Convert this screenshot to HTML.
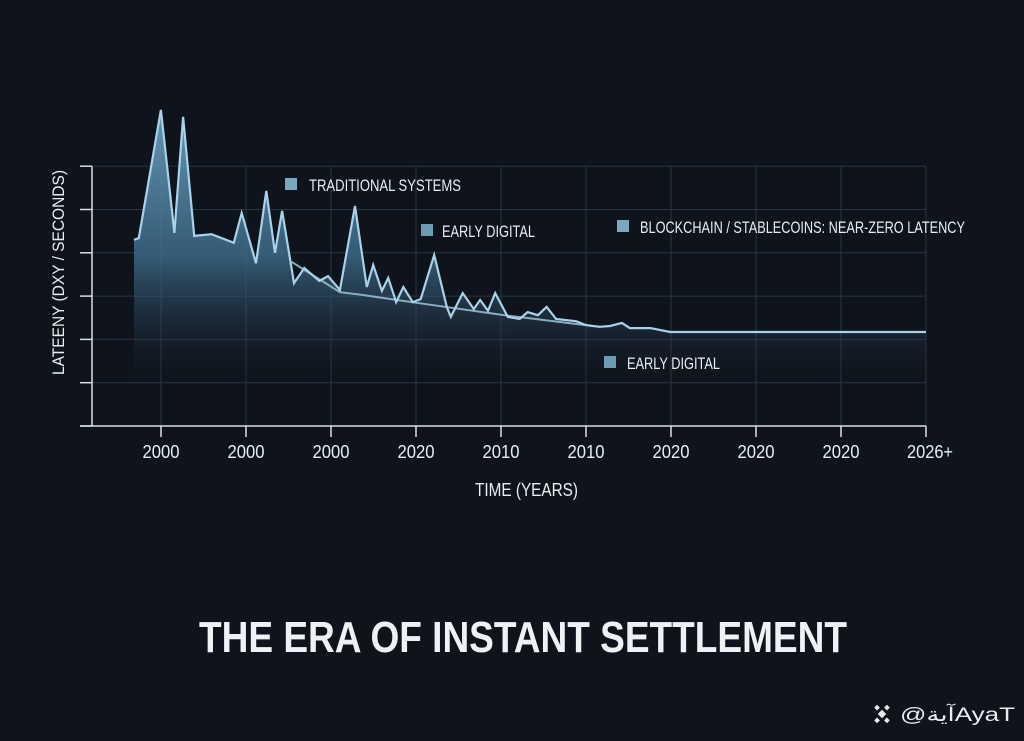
<!DOCTYPE html>
<html><head><meta charset="utf-8"><style>
html,body{margin:0;padding:0;background:#0f141c;}
#wrap{position:relative;width:1024px;height:741px;background:#0f141c;overflow:hidden;font-family:"Liberation Sans",sans-serif;}
svg text{font-family:"Liberation Sans",sans-serif;}
</style></head><body>
<div id="wrap">
<svg id="chart" width="1024" height="741">
<defs>
<linearGradient id="fillg" gradientUnits="userSpaceOnUse" x1="0" y1="110" x2="0" y2="380">
<stop offset="0" stop-color="#6a9fc0" stop-opacity="0.95"/>
<stop offset="0.55" stop-color="#3e6c8a" stop-opacity="0.8"/>
<stop offset="1" stop-color="#1a2a3a" stop-opacity="0"/>
</linearGradient>
</defs>
<g id="grid"></g>
<g id="area"></g>
<g id="axes"></g>
<g font-size="17" fill="#e6eef4">
<rect x="285" y="178" width="12" height="12" fill="#7aa8c2"/>
<text x="309" y="191" textLength="152" lengthAdjust="spacingAndGlyphs">TRADITIONAL SYSTEMS</text>
<rect x="421" y="224" width="12" height="12" fill="#6d9ab5"/>
<text x="442" y="237" textLength="93" lengthAdjust="spacingAndGlyphs">EARLY DIGITAL</text>
<rect x="617" y="220" width="12" height="12" fill="#7aa8c2"/>
<text x="640" y="233" textLength="325" lengthAdjust="spacingAndGlyphs">BLOCKCHAIN / STABLECOINS: NEAR-ZERO LATENCY</text>
<rect x="604" y="356" width="12" height="12" fill="#6d9ab5"/>
<text x="627" y="369" textLength="93" lengthAdjust="spacingAndGlyphs">EARLY DIGITAL</text>
</g>
<text x="475" y="496" textLength="103" lengthAdjust="spacingAndGlyphs" font-size="18" fill="#e6eef4">TIME (YEARS)</text>
<text transform="translate(64,375) rotate(-90)" textLength="205" lengthAdjust="spacingAndGlyphs" font-size="17" fill="#e6eef4">LATEENY (DXY / SECONDS)</text>
<text x="199" y="652" textLength="648" lengthAdjust="spacingAndGlyphs" font-size="44" font-weight="bold" fill="#eef2f5">THE ERA OF INSTANT SETTLEMENT</text>
<g fill="#e8ecef">
<g transform="translate(882,714) rotate(45)"><rect x="-3" y="-3" width="6" height="6"/><rect x="-10" y="-3" width="4" height="4"/><rect x="6" y="-1" width="4" height="4"/><rect x="-3" y="-10" width="4" height="4"/><rect x="-1" y="6" width="4" height="4"/></g>
<text x="900" y="721" textLength="115" lengthAdjust="spacingAndGlyphs" font-size="19">@آيةAyaT</text>
</g>
</svg>
</div>
<script>
var xTickLabels=["2000","2000","2000","2020","2010","2010","2020","2020","2020","2026+"];
var yTicks=[0,1,2,3,4,5,6];
var seriesT=[0,0.6,3.4,5.1,6.2,7.6,9.8,12.6,13.6,15.4,16.7,17.8,18.7,20.2,21.5,23.4,24.5,26.0,27.9,29.4,30.2,31.3,32.1,33.1,34.0,35.2,36.2,37.9,39.5,40.0,41.5,42.9,43.7,44.7,45.6,47.2,48.7,49.7,51.0,52.1,53.3,55.8,57.1,58.8,60.1,61.6,62.6,65.2,67.7,100];
var seriesV=[4.30,4.34,7.30,4.46,7.14,4.39,4.43,4.23,4.92,3.76,5.43,4.00,4.97,3.30,3.65,3.35,3.46,3.14,5.08,3.21,3.72,3.12,3.42,2.86,3.21,2.86,2.93,3.95,2.75,2.52,3.07,2.70,2.91,2.66,3.07,2.52,2.47,2.63,2.56,2.75,2.47,2.42,2.33,2.29,2.31,2.38,2.26,2.26,2.17,2.17];
var baseT=[19.9,26.0,28.7,33.2,37.8,46.7,58.8];
var baseV=[3.79,3.09,3.03,2.91,2.79,2.56,2.29];
var NS="http://www.w3.org/2000/svg";
function xs(t){return 134+t*7.92;}
function ys(v){return 426-v*43.3;}
function tickX(i){return 161+i*85;}
function mk(tag,attrs,parent){var e=document.createElementNS(NS,tag);for(var k in attrs)e.setAttribute(k,attrs[k]);parent.appendChild(e);return e;}
var grid=document.getElementById('grid'),axes=document.getElementById('axes'),area=document.getElementById('area');
yTicks.forEach(function(v,i){
  if(i>0){var g=mk('line',{x1:92,x2:926,y1:ys(v),y2:ys(v),stroke:'#2a3440','stroke-width':1},grid);
  
  }
  var t=mk('line',{x1:80,x2:92,y1:ys(v),y2:ys(v),stroke:'#d8dee4','stroke-width':1.5},axes);
  
  
});
xTickLabels.forEach(function(l,i){
  var x=tickX(i);
  var g=mk('line',{x1:x,x2:x,y1:ys(6),y2:426,stroke:'#2a3440','stroke-width':1},grid);
  
  
  var t=mk('line',{x1:x,x2:x,y1:426,y2:437,stroke:'#d8dee4','stroke-width':1.5},axes);
  
  
  var w=l.length>4?46:37;
  var tx=mk('text',{x:x-w/2+(l.length>4?4:0),y:458,'font-size':18,fill:'#e6eef4',textLength:w,lengthAdjust:'spacingAndGlyphs'},axes);
  tx.textContent=l;
  
  
});
var ya=mk('line',{x1:92,x2:92,y1:ys(6),y2:426,stroke:'#d8dee4','stroke-width':1.5},axes);


var xa=mk('line',{x1:80,x2:926,y1:426,y2:426,stroke:'#d8dee4','stroke-width':1.5},axes);


var pts=seriesT.map(function(t,i){return xs(t).toFixed(1)+','+ys(seriesV[i]).toFixed(1);});
var fillD='M'+xs(seriesT[0])+','+ys(0.3)+' L'+pts.join(' L')+' L'+xs(seriesT[seriesT.length-1])+','+ys(0.3)+' Z';
var f=mk('path',{d:fillD,fill:'url(#fillg)'},area);


var bl=mk('polyline',{points:baseT.map(function(t,i){return xs(t)+','+ys(baseV[i]);}).join(' '),fill:'none',stroke:'#9cc4da','stroke-width':2,'stroke-opacity':0.85},area);


var ln=mk('polyline',{points:pts.join(' '),fill:'none',stroke:'#a9d2e8','stroke-width':2.2,'stroke-linejoin':'miter'},area);


</script>
</body></html>
